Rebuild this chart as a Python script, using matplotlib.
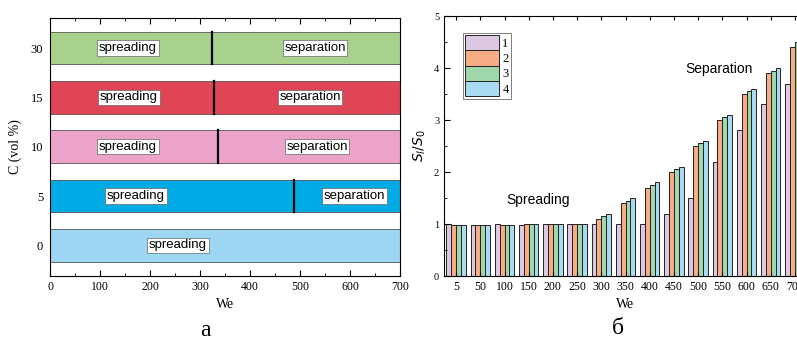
import numpy as np
import matplotlib
matplotlib.use('Agg')
import matplotlib.pyplot as plt
from matplotlib.ticker import MultipleLocator

# left panel: regime map
conc_labels = ['0', '5', '10', '15', '30']
conc_colors = ['#9dd6f2', '#00aae4', '#eba3c9', '#e04556', '#a9d18e']
boundary_we = [None, 487, 336, 327, 323]
spread_text_x = [256, 172, 156, 158, 156]
separ_text_x = [None, 609, 534, 520, 530]
we_max = 700

# right panel: S_l/S_0 vs We
we_groups = ['5', '50', '100', '150', '200', '250', '300', '350', '400',
             '450', '500', '550', '600', '650', '700']
series_1 = [1.0, 0.98, 1.0, 0.98, 1.0, 1.0, 1.0, 1.0, 1.0, 1.2, 1.5, 2.2, 2.8, 3.3, 3.7]
series_2 = [0.98, 0.98, 0.98, 1.0, 1.0, 1.0, 1.1, 1.4, 1.7, 2.0, 2.5, 3.0, 3.5, 3.9, 4.4]
series_3 = [0.98, 0.98, 0.98, 1.0, 1.0, 1.0, 1.15, 1.45, 1.75, 2.05, 2.55, 3.05, 3.55, 3.95, 4.5]
series_4 = [0.98, 0.98, 0.98, 1.0, 1.0, 1.0, 1.2, 1.5, 1.8, 2.1, 2.6, 3.1, 3.6, 4.0, 4.6]
series_labels = ['1', '2', '3', '4']
series_colors = ['#dcc8e2', '#f8ac85', '#9fd6aa', '#a8daf2']

serif = 'Liberation Serif'
sans = 'Liberation Sans'


def plot_regimes(ax):
    n = len(conc_labels)
    for i in range(n):
        ax.barh(i, we_max, height=0.66, left=0, color=conc_colors[i],
                edgecolor='#555555', linewidth=0.6)
        if boundary_we[i] is not None:
            ax.plot([boundary_we[i], boundary_we[i]], [i - 0.33, i + 0.33],
                    color='black', lw=1.6)
        box = dict(facecolor='white', edgecolor='#666666', lw=0.5, pad=1.2)
        ax.text(spread_text_x[i], i, 'spreading', ha='center', va='center',
                family=sans, fontsize=9.5, bbox=box)
        if separ_text_x[i] is not None:
            ax.text(separ_text_x[i], i, 'separation', ha='center', va='center',
                    family=sans, fontsize=9.5, bbox=box)
    ax.set_xlim(0, we_max)
    ax.set_ylim(-0.62, n - 1 + 0.61)
    ax.set_yticks(range(n))
    ax.set_yticklabels(conc_labels, family=serif, fontsize=9)
    ax.xaxis.set_major_locator(MultipleLocator(100))
    ax.xaxis.set_minor_locator(MultipleLocator(50))
    ax.tick_params(axis='x', which='both', direction='in', top=True,
                   labelsize=8.5)
    ax.tick_params(axis='x', which='major', length=4)
    ax.tick_params(axis='x', which='minor', length=2)
    ax.tick_params(axis='y', length=0, pad=5)
    for lab in ax.get_xticklabels():
        lab.set_family(serif)
    ax.set_xlabel('We', family=serif, fontsize=10, labelpad=4)
    ax.set_ylabel('C (vol %)', family=serif, fontsize=10, labelpad=6)


def plot_ratio(ax):
    x = np.arange(len(we_groups))
    w = 0.2
    all_series = [series_1, series_2, series_3, series_4]
    for k, vals in enumerate(all_series):
        ax.bar(x + (k - 1.5) * w, vals, width=w, color=series_colors[k],
               edgecolor='#222222', linewidth=0.7, label=series_labels[k])
    ax.set_xlim(-0.5, len(we_groups) - 0.5)
    ax.set_ylim(0, 5)
    ax.set_xticks(x)
    ax.set_xticklabels(we_groups, family=serif, fontsize=8.5)
    ax.yaxis.set_major_locator(MultipleLocator(1))
    ax.yaxis.set_minor_locator(MultipleLocator(0.5))
    ax.tick_params(axis='x', direction='in', top=True, length=3, labelsize=8.5)
    ax.tick_params(axis='y', which='major', direction='in', length=4, labelsize=7.5)
    ax.tick_params(axis='y', which='minor', direction='in', length=2)
    for lab in ax.get_yticklabels():
        lab.set_family(serif)
    ax.set_xlabel('We', family=serif, fontsize=10, labelpad=4)
    ax.set_ylabel('$S_l/S_0$', fontsize=10, labelpad=4)
    ax.text(3.4, 1.38, 'Spreading', family=sans, fontsize=10, ha='center')
    ax.text(10.85, 3.9, 'Separation', family=sans, fontsize=10, ha='center')
    leg = ax.legend(loc='upper left', bbox_to_anchor=(0.035, 0.96),
                    prop={'family': serif, 'size': 9}, frameon=True,
                    fancybox=False, handlelength=2.7, handleheight=1.5,
                    handletextpad=0.25, labelspacing=0.0, borderpad=0.2)
    leg.get_frame().set_edgecolor('#444444')
    leg.get_frame().set_linewidth(0.6)


if __name__ == '__main__':
    fig = plt.figure(figsize=(7.97, 3.43), dpi=100)
    W, H = 797.0, 343.0
    ax1 = fig.add_axes([50 / W, (H - 276) / H, 350 / W, 258 / H])
    ax2 = fig.add_axes([444 / W, (H - 276) / H, 363 / W, 260 / H])
    plot_regimes(ax1)
    plot_ratio(ax2)
    fig.text(205 / W, (H - 330) / H, 'a', family=serif, fontsize=17,
             ha='center', va='center')
    fig.text(618 / W, (H - 328) / H, 'б', family=serif, fontsize=17,
             ha='center', va='center')
    fig.savefig('out.png', dpi=100)
